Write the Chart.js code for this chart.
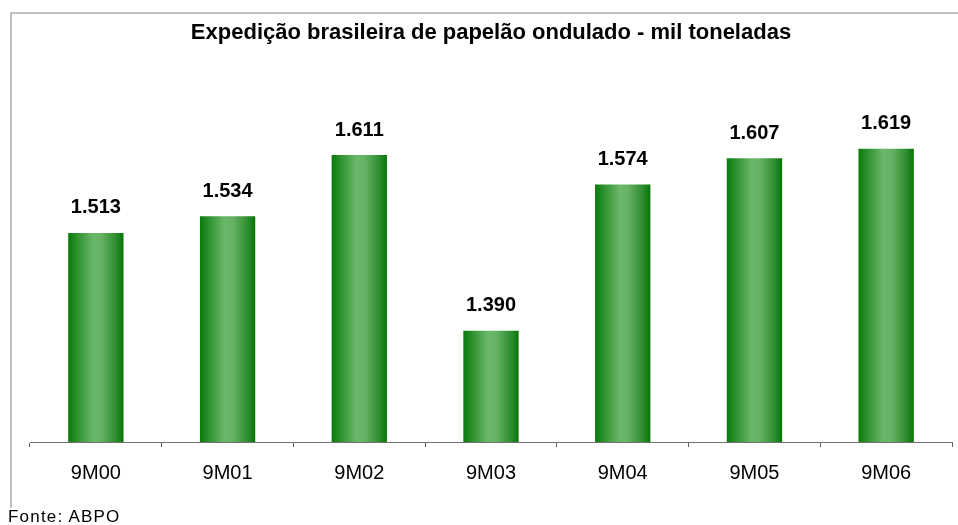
<!DOCTYPE html>
<html>
<head>
<meta charset="utf-8">
<script src="https://cdn.jsdelivr.net/npm/chart.js@4.4.0/dist/chart.umd.min.js"></script>
<style>
  html, body { margin: 0; padding: 0; background: #fff; }
  #wrap { position: relative; width: 958px; height: 525px; overflow: hidden; }
  #fonte {
    position: absolute; left: 8px; top: 507px;
    font: 17px "Liberation Sans", Arial, sans-serif; letter-spacing: 1.2px; color: #000;
  }
</style>
</head>
<body>
<div id="wrap">
  <canvas id="chart" width="958" height="525"></canvas>
  <div id="fonte">Fonte: ABPO</div>
</div>
<script>
var categories = ['9M00', '9M01', '9M02', '9M03', '9M04', '9M05', '9M06'];
var values = [1513, 1534, 1611, 1390, 1574, 1607, 1619];
var valueLabels = ['1.513', '1.534', '1.611', '1.390', '1.574', '1.607', '1.619'];

var BAR_PCT = 0.42;

// gray frame at top and left, like the original sheet
var framePlugin = {
  id: 'frame',
  beforeDraw: function (chart) {
    var ctx = chart.ctx;
    ctx.save();
    ctx.fillStyle = '#c0c0c0';
    ctx.fillRect(10, 12, 948, 2);
    ctx.fillRect(10, 12, 2, 496);
    ctx.restore();
  }
};

// numbers above the bars
var valuePlugin = {
  id: 'values',
  afterDatasetsDraw: function (chart) {
    var ctx = chart.ctx;
    var meta = chart.getDatasetMeta(0);
    ctx.save();
    ctx.font = 'bold 20px "Liberation Sans", Arial, sans-serif';
    ctx.fillStyle = '#000';
    ctx.textAlign = 'center';
    ctx.textBaseline = 'middle';
    meta.data.forEach(function (bar, i) {
      ctx.fillText(valueLabels[i], bar.x, bar.y - 25);
    });
    ctx.restore();
  }
};

function barGradient(context) {
  var chart = context.chart;
  var xs = chart.scales && chart.scales.x;
  if (!chart.chartArea || !xs || context.dataIndex === undefined) return '#3d9a3d';
  var cx = xs.getPixelForValue(context.dataIndex);
  var half = (chart.chartArea.width / categories.length) * BAR_PCT / 2;
  if (!isFinite(cx) || !isFinite(half)) return '#3d9a3d';
  var g = chart.ctx.createLinearGradient(cx - half, 0, cx + half, 0);
  g.addColorStop(0, '#0a7a0a');
  g.addColorStop(0.15, '#2b8f2b');
  g.addColorStop(0.45, '#6bb86b');
  g.addColorStop(0.6, '#65b265');
  g.addColorStop(0.87, '#2c8c2c');
  g.addColorStop(1, '#067406');
  return g;
}

var ctx = document.getElementById('chart').getContext('2d');
var chart = new Chart(ctx, {
  type: 'bar',
  data: {
    labels: categories,
    datasets: [{
      data: values,
      backgroundColor: barGradient,
      borderWidth: 0,
      categoryPercentage: 1,
      barPercentage: BAR_PCT
    }]
  },
  options: {
    responsive: false,
    animation: false,
    layout: { padding: { top: 12, left: 30, right: 6, bottom: 26 } },
    scales: {
      x: {
        grid: { drawOnChartArea: false, drawTicks: true, tickLength: 5, color: '#606060' },
        border: { display: true, color: '#707070', width: 1 },
        ticks: {
          color: '#000',
          padding: 14,
          font: { family: '"Liberation Sans", Arial, sans-serif', size: 20 }
        }
      },
      y: {
        display: false,
        min: 1250,
        max: 1730.6
      }
    },
    plugins: {
      legend: { display: false },
      tooltip: { enabled: false },
      title: {
        display: true,
        text: 'Expedição brasileira de papelão ondulado - mil toneladas',
        color: '#000',
        font: { family: '"Liberation Sans", Arial, sans-serif', size: 22, weight: 'bold', lineHeight: 1.2 },
        padding: { top: 7.8, bottom: 13.8 }
      }
    }
  },
  plugins: [framePlugin, valuePlugin]
});
chart.update();
</script>
</body>
</html>
